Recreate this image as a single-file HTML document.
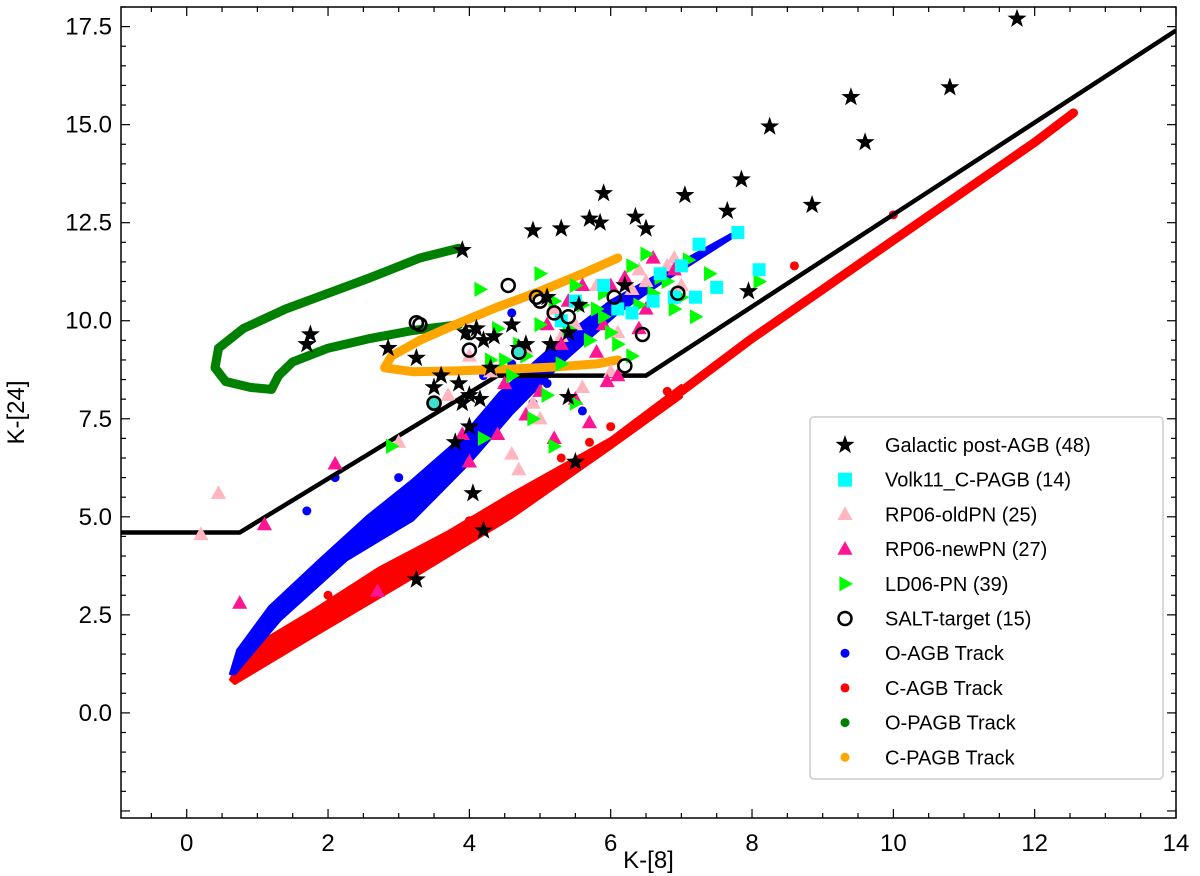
<!DOCTYPE html>
<html><head><meta charset="utf-8"><style>
body{margin:0;background:#fff;}
svg{display:block;font-family:"Liberation Sans","DejaVu Sans",sans-serif;}
</style></head><body>
<svg id="chart" width="1200" height="876" viewBox="0 0 1200 876" xmlns="http://www.w3.org/2000/svg"></svg>
<script>
const xTicks=[0,2,4,6,8,10,12,14];
const yTicks=[0.0,2.5,5.0,7.5,10.0,12.5,15.0,17.5];
const boundary=[[-0.93,4.6],[0.75,4.6],[4.4,8.6],[6.5,8.6],[14,17.4]];
const stars=[[11.75,17.7],[9.4,15.7],[10.8,15.95],[8.25,14.95],[9.6,14.55],[5.9,13.25],[7.05,13.2],[7.85,13.6],[6.35,12.65],[5.7,12.6],[5.85,12.5],[6.5,12.35],[5.3,12.35],[4.9,12.3],[7.65,12.8],[8.85,12.95],[3.9,11.8],[7.95,10.75],[1.75,9.65],[1.7,9.4],[2.85,9.3],[3.25,9.05],[4.1,9.8],[4.2,9.5],[4.35,9.6],[4.8,9.4],[3.6,8.6],[3.85,8.4],[4.0,8.1],[4.15,8.0],[3.9,7.9],[5.4,8.05],[5.15,9.4],[3.8,6.9],[4.05,5.6],[4.2,4.65],[5.5,6.4],[3.25,3.4],[4.6,9.9],[5.4,9.7],[3.95,9.7],[4.7,9.3],[5.55,10.4],[4.3,8.8],[3.5,8.3],[6.2,10.9],[4.0,7.3],[5.1,10.6]];
const volk=[[7.25,11.95],[7.8,12.25],[8.1,11.3],[7.5,10.85],[7.2,10.6],[6.6,10.5],[6.9,10.6],[5.9,10.9],[5.5,10.5],[6.3,10.2],[5.3,10.0],[6.7,11.2],[7.0,11.4],[6.1,10.3]];
const oldPN=[[0.45,5.6],[0.2,4.55],[3.0,6.9],[4.7,6.2],[4.6,6.6],[5.0,7.5],[6.0,8.7],[6.3,10.8],[6.5,11.0],[5.2,10.3],[6.8,11.4],[5.8,10.9],[4.8,9.3],[5.5,9.9],[6.1,9.7],[4.0,9.1],[4.3,8.7],[5.6,8.3],[6.6,10.5],[7.0,10.9],[4.9,7.9],[3.7,8.1],[6.4,11.3],[5.3,9.6],[6.9,11.6]];
const newPN=[[1.1,4.8],[2.1,6.35],[0.75,2.8],[2.7,3.1],[4.0,6.4],[3.9,7.1],[5.95,8.45],[5.7,7.4],[5.2,7.0],[5.4,10.5],[5.6,10.9],[6.0,10.9],[6.5,10.3],[6.2,11.1],[5.3,9.4],[5.8,9.2],[4.5,8.4],[5.0,8.2],[4.8,7.6],[6.9,11.3],[6.6,11.6],[5.9,9.9],[5.1,9.9],[6.4,9.8],[4.4,7.1],[5.5,8.0],[6.1,8.6]];
const ldPN=[[4.15,10.8],[5.0,11.2],[4.4,9.8],[4.7,9.4],[4.3,9.0],[5.5,10.9],[5.2,10.5],[5.9,10.7],[6.3,11.4],[6.7,11.1],[7.1,11.55],[7.2,10.1],[6.9,10.3],[6.4,10.4],[6.8,11.0],[5.9,10.1],[5.6,10.4],[6.5,11.7],[5.4,9.8],[5.0,9.9],[4.8,9.1],[4.6,8.6],[5.1,8.1],[5.5,7.9],[4.9,7.5],[5.2,6.8],[4.2,7.0],[2.9,6.8],[6.1,9.4],[6.3,9.1],[5.3,8.9],[6.0,9.7],[5.7,9.5],[7.4,11.2],[8.1,11.0],[6.6,10.7],[7.0,10.6],[4.5,9.0],[5.8,10.3]];
const salt=[[3.25,9.95],[4.0,9.7],[4.0,9.25],[4.55,10.9],[4.95,10.6],[5.2,10.2],[5.4,10.1],[6.05,10.6],[6.95,10.7],[6.45,9.65],[6.2,8.85],[4.7,9.2],[3.5,7.9],[3.3,9.9],[5.0,10.5]];
const saltFilled=[[4.7,9.2],[3.5,7.9]];
const oAGBupper=[[0.62,1.0],[0.72,1.6],[1.17,2.7],[1.88,3.9],[2.55,5.0],[3.2,5.94],[3.9,7.04],[4.43,8.16],[5.28,9.5],[6.0,10.5],[6.55,11.05],[7.1,11.6],[7.7,12.2]];
const oAGBlower=[[0.68,1.0],[1.32,2.37],[2.26,3.9],[3.2,4.92],[4.0,6.38],[4.61,7.65],[5.35,9.0],[6.1,10.2],[6.7,10.95],[7.7,12.1]];
const oAGBscatter=[[1.7,5.15],[2.1,6.0],[3.0,6.0],[4.6,10.2],[4.2,8.6],[4.9,7.9],[5.6,7.7],[3.4,5.5],[4.6,8.9],[3.9,6.4],[5.1,8.4]];
const cAGBupper=[[0.62,0.85],[0.85,1.6],[1.78,2.6],[2.73,3.7],[3.68,4.6],[4.61,5.6],[6.0,7.0],[7.0,8.35]];
const cAGBlower=[[0.68,0.75],[1.78,1.94],[3.2,3.45],[4.61,5.0],[6.0,6.75],[7.0,8.05]];
const cAGB=[[7.0,8.2],[8.0,9.55],[9.0,10.8],[10.0,12.05],[11.0,13.3],[12.0,14.55],[12.55,15.3]];
const cAGBscatter=[[1.4,2.6],[2.0,3.0],[2.6,3.4],[3.0,3.6],[3.5,4.0],[4.6,5.3],[6.0,7.3],[6.8,8.2],[8.6,11.4],[10.0,12.7],[4.0,4.9],[5.3,6.5],[5.7,6.9],[3.9,4.5]];
const oPAGB=[[3.85,11.85],[3.3,11.6],[2.6,11.1],[2.0,10.7],[1.4,10.3],[0.8,9.8],[0.45,9.3],[0.4,8.8],[0.55,8.45],[0.9,8.3],[1.2,8.25],[1.3,8.6],[1.5,8.95],[2.0,9.3],[2.6,9.55],[3.2,9.75],[3.85,9.9]];
const cPAGB=[[6.1,11.6],[5.6,11.2],[5.0,10.75],[4.4,10.35],[3.8,9.9],[3.3,9.5],[2.9,9.1],[2.8,8.8],[3.2,8.7],[3.8,8.72],[4.5,8.76],[5.2,8.82],[5.8,8.9],[6.1,9.0]];
const legendLabels=["Galactic post-AGB (48)","Volk11_C-PAGB (14)","RP06-oldPN (25)","RP06-newPN (27)","LD06-PN (39)","SALT-target (15)","O-AGB Track","C-AGB Track","O-PAGB Track","C-PAGB Track"];

const svg=document.getElementById('chart');
const NS='http://www.w3.org/2000/svg';
const L=121,R=1176,T=7,B=818, xmin=-0.93,xmax=14,ymin=-2.68,ymax=18.0;
function sx(v){return L+(v-xmin)/(xmax-xmin)*(R-L);}
function sy(v){return B-(v-ymin)/(ymax-ymin)*(B-T);}
function mk(tag,attrs,parent){const e=document.createElementNS(NS,tag);for(const k in attrs)e.setAttribute(k,attrs[k]);(parent||svg).appendChild(e);return e;}
function starPath(cx,cy,r){let d='';for(let i=0;i<10;i++){const a=-Math.PI/2+i*Math.PI/5;const rr=i%2?r*0.4:r;d+=(i?'L':'M')+(cx+rr*Math.cos(a)).toFixed(1)+','+(cy+rr*Math.sin(a)).toFixed(1);}return d+'Z';}
function triUp(cx,cy,r){return `M${cx},${cy-r}L${cx+r*0.95},${cy+r*0.7}L${cx-r*0.95},${cy+r*0.7}Z`;}
function triRight(cx,cy,r){return `M${cx+r},${cy}L${cx-r*0.7},${cy-r*0.95}L${cx-r*0.7},${cy+r*0.95}Z`;}
function poly(arr){return arr.map((p,i)=>(i?'L':'M')+sx(p[0]).toFixed(1)+','+sy(p[1]).toFixed(1)).join('');}

const clip=mk('clipPath',{id:'pc'});mk('rect',{x:L,y:T,width:R-L,height:B-T},clip);
const g=mk('g',{'clip-path':'url(#pc)'});



function band(up,lo,color,name){
  const d=poly(up.concat(lo.slice().reverse()))+'Z';
  const p=mk('path',{d:d,fill:color,stroke:color,'stroke-width':3,'stroke-linejoin':'round'},g);
  
  
}
function track(arr,color,w,name,scatter){
  const p=mk('path',{d:poly(arr),fill:'none',stroke:color,'stroke-width':w,'stroke-linecap':'round','stroke-linejoin':'round'},g);
  
  
  (scatter||[]).forEach(q=>{const c=mk('circle',{cx:sx(q[0]),cy:sy(q[1]),r:4.5,fill:color},g);
    
    });
}
band(cAGBupper,cAGBlower,'#ff0000','c-agb-band');
track(cAGB,'#ff0000',9,'c-agb-track',cAGBscatter);
band(oAGBupper,oAGBlower,'#0000ff','o-agb-band');
track([],'#0000ff',9,'o-agb-track',oAGBscatter);
track(oPAGB,'#008000',9,'o-pagb-track');
track(cPAGB,'#ffa500',9,'c-pagb-track');

const bl=mk('path',{d:poly(boundary),fill:'none',stroke:'#000','stroke-width':4.5},g);



oldPN.forEach(p=>{const e=mk('path',{d:triUp(sx(p[0]),sy(p[1]),8),fill:'#ffb6c1'},g);
  
  });
newPN.forEach(p=>{const e=mk('path',{d:triUp(sx(p[0]),sy(p[1]),8),fill:'#ff1493'},g);
  
  });
ldPN.forEach(p=>{const e=mk('path',{d:triRight(sx(p[0]),sy(p[1]),8),fill:'#00ff00'},g);
  
  });
volk.forEach(p=>{const e=mk('rect',{x:sx(p[0])-6.5,y:sy(p[1])-6.5,width:13,height:13,fill:'#00ffff'},g);
  
  });
stars.forEach(p=>{const e=mk('path',{d:starPath(sx(p[0]),sy(p[1]),10),fill:'#000'},g);
  
  });
salt.forEach(p=>{const e=mk('circle',{cx:sx(p[0]),cy:sy(p[1]),r:6.5,fill:'none',stroke:'#000','stroke-width':2.5},g);
  
  });
saltFilled.forEach(p=>{const e=mk('circle',{cx:sx(p[0]),cy:sy(p[1]),r:6.5,fill:'#40e0d0',stroke:'#000','stroke-width':2.5},g);
  
  });

const fr=mk('rect',{x:L,y:T,width:R-L,height:B-T,fill:'none',stroke:'#000','stroke-width':1.5});


for(let v=-0.5;v<=14.01;v+=0.5){const x=sx(v);const major=Math.abs(v%2)<1e-6;const len=major?9:5;
  mk('line',{x1:x,y1:B,x2:x,y2:B-len,stroke:'#000','stroke-width':1.2});
  mk('line',{x1:x,y1:T,x2:x,y2:T+len,stroke:'#000','stroke-width':1.2});}
for(let v=-2.5;v<=18.01;v+=0.5){const y=sy(v);const major=Math.abs(v%2.5)<1e-6;const len=major?9:5;
  mk('line',{x1:L,y1:y,x2:L+len,y2:y,stroke:'#000','stroke-width':1.2});
  mk('line',{x1:R,y1:y,x2:R-len,y2:y,stroke:'#000','stroke-width':1.2});}
xTicks.forEach(v=>{const t=mk('text',{x:sx(v),y:B+33,'text-anchor':'middle','font-size':24});t.textContent=v;
  
  });
yTicks.forEach(v=>{const t=mk('text',{x:L-9,y:sy(v)+8,'text-anchor':'end','font-size':24});t.textContent=v.toFixed(1);
  
  });
const xt=mk('text',{x:(L+R)/2,y:868,'text-anchor':'middle','font-size':24});xt.textContent='K-[8]';


const yt=mk('text',{x:24,y:(T+B)/2,'text-anchor':'middle','font-size':24,transform:`rotate(-90 24 ${(T+B)/2})`});yt.textContent='K-[24]';



const lg=mk('g',{});


mk('rect',{x:810,y:417,width:353,height:362,rx:4,fill:'#fff',stroke:'#ccc','stroke-width':1.5},lg);
legendLabels.forEach((lab,i)=>{const y=445+i*34.7,x=845;
  const e=mk('g',{},lg);
  
  
  if(i===0)mk('path',{d:starPath(x,y,10),fill:'#000'},e);
  if(i===1)mk('rect',{x:x-7,y:y-7,width:14,height:14,fill:'#00ffff'},e);
  if(i===2)mk('path',{d:triUp(x,y,8),fill:'#ffb6c1'},e);
  if(i===3)mk('path',{d:triUp(x,y,8),fill:'#ff1493'},e);
  if(i===4)mk('path',{d:triRight(x,y,8),fill:'#00ff00'},e);
  if(i===5)mk('circle',{cx:x,cy:y,r:6.5,fill:'none',stroke:'#000','stroke-width':2.5},e);
  if(i>=6)mk('circle',{cx:x,cy:y,r:4.5,fill:['#0000ff','#ff0000','#008000','#ffa500'][i-6]},e);
  const t=mk('text',{x:885,y:y+7,'font-size':20},e);t.textContent=lab;});
</script>
</body></html>
